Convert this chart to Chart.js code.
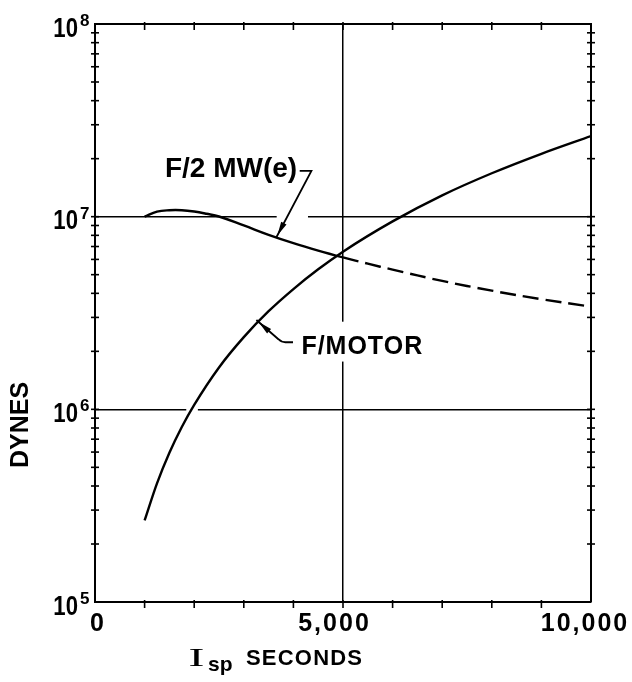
<!DOCTYPE html>
<html><head><meta charset="utf-8">
<script src="https://cdn.jsdelivr.net/npm/chart.js@4.4.1/dist/chart.umd.min.js"></script>
<style>html,body{margin:0;padding:0;background:#fff;}</style>
</head><body>
<canvas id="c" width="632" height="682"></canvas>
<script>
// ---- data ----
const motorX = [1000, 1250, 1500, 1750, 2000, 2500, 3000, 3500, 4000, 4500, 5000, 6000, 7000, 8000, 9000, 10000];
const motorY = [2.65e5, 4.13e5, 5.95e5, 8.1e5, 1.055e6, 1.65e6, 2.37e6, 3.23e6, 4.21e6, 5.33e6, 6.58e6, 9.45e6, 1.29e7, 1.68e7, 2.12e7, 2.62e7];
const mwX = [1000, 1250, 1500, 1750, 2000, 2250, 2500, 3000, 3500, 4000, 4500, 5000, 5500, 6000, 7000, 8000, 9000, 10000];
const mwY = [1.0e7, 1.062e7, 1.080e7, 1.080e7, 1.063e7, 1.035e7, 1.002e7, 9.0e6, 8.05e6, 7.29e6, 6.67e6, 6.15e6, 5.70e6, 5.31e6, 4.64e6, 4.13e6, 3.73e6, 3.41e6];
const seriesNames = ['F/MOTOR', 'F/2 MW(e)'];
const mwDashFrom = 5000;
const xMin = 0, xMax = 10000;
const xTickValues = [0, 1000, 2000, 3000, 4000, 5000, 6000, 7000, 8000, 9000, 10000];
const xLabelValues = [0, 5000, 10000];
const xLabelTexts = ['0', '5,000', '10,000'];
const yMin = 1e5, yMax = 1e8;
const yLabelValues = [1e5, 1e6, 1e7, 1e8];
const yLabelExps = ['5', '6', '7', '8'];
const xGridValues = [5000];
const yGridValues = [1e6, 1e7];
const yTitle = 'DYNES';
const xTitleMain = 'I', xTitleSub = 'sp', xTitleRest = 'SECONDS';

const BOLD = "bold %spx 'Liberation Sans', Arial, sans-serif";
const font = s => BOLD.replace('%s', s);

function line(ctx, x1, y1, x2, y2) { ctx.beginPath(); ctx.moveTo(x1, y1); ctx.lineTo(x2, y2); ctx.stroke(); }
function arrowHead(ctx, fx, fy, tx, ty, back, len, w) {
  const dx = tx - fx, dy = ty - fy, L = Math.hypot(dx, dy), ux = dx / L, uy = dy / L;
  const bx = tx - ux * back, by = ty - uy * back;
  const ex = bx - ux * len, ey = by - uy * len;
  ctx.beginPath();
  ctx.moveTo(bx, by);
  ctx.lineTo(ex - uy * w, ey + ux * w);
  ctx.lineTo(ex + uy * w, ey - ux * w);
  ctx.closePath(); ctx.fill();
}

const decor = {
  id: 'decor',
  beforeDatasetsDraw(chart) {
    const { ctx, scales: { x, y } } = chart;
    ctx.save(); ctx.fillStyle = '#fff';
    let a = x.getPixelForValue(3663), b = x.getPixelForValue(4294), p = y.getPixelForValue(1e7);
    ctx.fillRect(a, p - 2.5, b - a, 5);
    a = x.getPixelForValue(1840); b = x.getPixelForValue(2074); p = y.getPixelForValue(1e6);
    ctx.fillRect(a, p - 2.5, b - a, 5);
    const t = y.getPixelForValue(2.85e6), bt = y.getPixelForValue(1.77e6); p = x.getPixelForValue(5000);
    ctx.fillRect(p - 2.5, t, 5, bt - t);
    ctx.restore();
  },
  afterDatasetsDraw(chart) {
    const { ctx, chartArea: A, scales: { x, y } } = chart;
    ctx.save();
    ctx.strokeStyle = '#000'; ctx.fillStyle = '#000';
    ctx.lineWidth = 2;
    ctx.beginPath(); ctx.moveTo(A.left, A.top); ctx.lineTo(A.right, A.top); ctx.lineTo(A.right, A.bottom); ctx.stroke();
    ctx.lineWidth = 1.6;
    x.ticks.forEach(t => {
      if (t.value <= xMin || t.value >= xMax) return;
      const p = x.getPixelForValue(t.value);
      line(ctx, p, A.bottom - 2, p, A.bottom + 6);
      line(ctx, p, A.top - 2, p, A.top + 6);
    });
    y.ticks.forEach(t => {
      if (t.value <= yMin || t.value >= yMax) return;
      const p = y.getPixelForValue(t.value);
      line(ctx, A.left - 4, p, A.left + 4, p);
      line(ctx, A.right - 4, p, A.right + 4, p);
    });

    ctx.textBaseline = 'alphabetic';
    yLabelValues.forEach((v, i) => {
      const p = y.getPixelForValue(v);
      ctx.save();
      ctx.translate(A.left - 17, p + 12.5); ctx.scale(0.82, 1);
      ctx.font = "bold 27px 'Liberation Sans', sans-serif";
      ctx.textAlign = 'right';
      ctx.fillText('10', 0, 0);
      ctx.restore();
      ctx.font = "bold 17px 'Liberation Sans', sans-serif";
      ctx.textAlign = 'left';
      ctx.fillText(yLabelExps[i], A.left - 15, p + 2);
    });
    const xOff = [3, -8.5, -6];
    ctx.font = font(25); ctx.textAlign = 'center';
    ctx.letterSpacing = '2px';
    xLabelValues.forEach((v, i) => {
      ctx.fillText(xLabelTexts[i], x.getPixelForValue(v) + xOff[i], A.bottom + 29);
    });
    ctx.letterSpacing = '0px';

    ctx.save();
    ctx.translate(21, 425); ctx.rotate(-Math.PI / 2);
    ctx.font = font(25); ctx.textAlign = 'center'; ctx.textBaseline = 'middle';
    ctx.fillText(yTitle, 0, 0);
    ctx.restore();

    ctx.save();
    ctx.translate(196.5, 665.5); ctx.scale(1.9, 1);
    ctx.font = "25px 'Liberation Serif', serif"; ctx.textAlign = 'center'; ctx.textBaseline = 'alphabetic';
    ctx.fillText(xTitleMain, 0, 0);
    ctx.restore();
    ctx.font = font(21); ctx.textAlign = 'left'; ctx.textBaseline = 'alphabetic';
    ctx.fillText(xTitleSub, 208, 671);
    ctx.letterSpacing = '1.2px';
    ctx.font = font(22);
    ctx.fillText(xTitleRest, 246, 665);
    ctx.letterSpacing = '0px';

    ctx.lineWidth = 1.8;
    ctx.font = font(28); ctx.textAlign = 'left';
    ctx.fillText(seriesNames[1], x.getPixelForValue(1411), y.getPixelForValue(1.607e7));
    let s = [x.getPixelForValue(4127), y.getPixelForValue(1.73e7)];
    let c = [x.getPixelForValue(4363), y.getPixelForValue(1.73e7)];
    let tip = [x.getPixelForValue(3657), y.getPixelForValue(7.82e6)];
    ctx.beginPath(); ctx.moveTo(s[0], s[1]); ctx.lineTo(c[0], c[1]); ctx.lineTo(tip[0], tip[1]); ctx.stroke();
    arrowHead(ctx, c[0], c[1], tip[0], tip[1], 2, 14, 3);
    ctx.font = font(25); ctx.letterSpacing = '1px';
    ctx.fillText(seriesNames[0], x.getPixelForValue(4161), y.getPixelForValue(1.93e6));
    ctx.letterSpacing = '0px';
    s = [x.getPixelForValue(3992), y.getPixelForValue(2.23e6)];
    c = [x.getPixelForValue(3758), y.getPixelForValue(2.23e6)];
    tip = [x.getPixelForValue(3254), y.getPixelForValue(2.91e6)];
    ctx.beginPath(); ctx.moveTo(s[0], s[1]); ctx.lineTo(c[0] + 4, c[1]);
    ctx.quadraticCurveTo(c[0], c[1], c[0] - 3, c[1] - 3);
    ctx.lineTo(tip[0], tip[1]); ctx.stroke();
    arrowHead(ctx, c[0], c[1], tip[0], tip[1], 3, 14, 3);
    ctx.restore();
  }
};

const toPts = (xs, ys) => xs.map((v, i) => ({ x: v, y: ys[i] }));

new Chart(document.getElementById('c'), {
  type: 'line',
  data: {
    datasets: [
      { label: seriesNames[0], data: toPts(motorX, motorY), borderColor: '#000', borderWidth: 2.4,
        pointRadius: 0, fill: false, cubicInterpolationMode: 'monotone' },
      { label: seriesNames[1], data: toPts(mwX, mwY), borderColor: '#000', borderWidth: 2.4,
        pointRadius: 0, fill: false, tension: 0.4,
        segment: { borderDash: ctx => ctx.p0.parsed.x >= mwDashFrom ? [16, 7] : undefined } }
    ]
  },
  options: {
    responsive: false, animation: false,
    layout: { padding: { left: 0, top: 24, right: 41, bottom: 0 } },
    plugins: { legend: { display: false }, tooltip: { enabled: false } },
    scales: {
      x: {
        type: 'linear', min: xMin, max: xMax,
        afterBuildTicks: s => { s.ticks = xTickValues.map(v => ({ value: v })); },
        afterFit: s => { s.height = 80; },
        ticks: { display: false },
        grid: { drawTicks: false, lineWidth: 1.5,
          color: c => (c.tick && xGridValues.includes(c.tick.value)) ? '#000' : 'rgba(0,0,0,0)' },
        border: { display: true, color: '#000', width: 2 }
      },
      y: {
        type: 'logarithmic', min: yMin, max: yMax,
        afterBuildTicks: s => {
          const t = [];
          for (let d = 5; d < 8; d++) for (let m = 1; m <= 9; m++) t.push({ value: m * Math.pow(10, d) });
          t.push({ value: 1e8 });
          s.ticks = t;
        },
        afterFit: s => { s.width = 95; },
        ticks: { display: false },
        grid: { drawTicks: false, lineWidth: 1.5,
          color: c => (c.tick && yGridValues.includes(c.tick.value)) ? '#000' : 'rgba(0,0,0,0)' },
        border: { display: true, color: '#000', width: 2 }
      }
    }
  },
  plugins: [decor]
});
</script>
</body></html>
